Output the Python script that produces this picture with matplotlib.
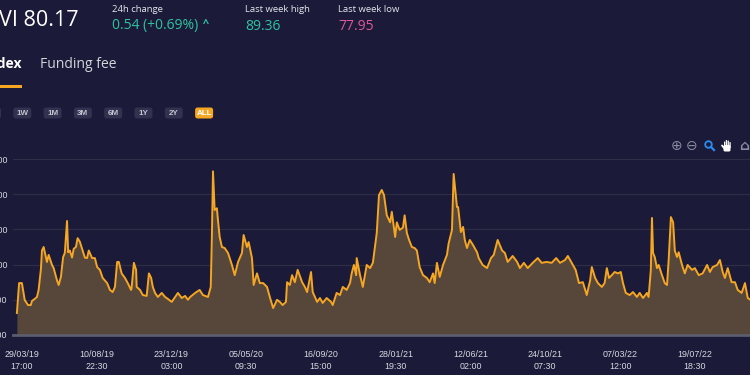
import numpy as np
import matplotlib.pyplot as plt
from matplotlib.patches import FancyBboxPatch, Rectangle, Circle

# index values (days after 2019-03-20 17:00)
days = [0, 4, 9, 11, 14, 20, 25, 27, 32, 36, 39, 43, 45, 48, 54, 57, 63, 66, 72, 75,
        79, 83, 86, 90, 92, 95, 99, 102, 106, 109, 113, 118, 122, 126, 129, 135, 140, 144, 149, 154,
        162, 167, 172, 176, 180, 183, 188, 194, 199, 205, 206, 210, 214, 215, 221, 226, 233, 237, 241, 244,
        248, 253, 260, 266, 271, 278, 284, 289, 296, 302, 307, 311, 320, 328, 334, 343, 348, 350, 352, 355,
        359, 361, 364, 368, 373, 379, 386, 391, 397, 404, 407, 413, 416, 422, 425, 431, 436, 442, 449, 454,
        460, 467, 472, 477, 483, 485, 490, 494, 499, 504, 512, 517, 521, 528, 531, 539, 544, 549, 556, 564,
        567, 574, 580, 585, 592, 598, 601, 605, 609, 610, 616, 621, 628, 634, 639, 646, 650, 655, 659, 664,
        670, 673, 679, 682, 687, 693, 696, 700, 704, 709, 714, 718, 723, 729, 736, 741, 747, 750, 754, 759,
        765, 772, 775, 781, 784, 790, 792, 797, 801, 804, 808, 813, 819, 826, 829, 836, 844, 851, 856, 863,
        871, 876, 881, 890, 898, 903, 910, 917, 926, 935, 942, 951, 960, 968, 975, 984, 989, 996, 1003, 1009,
        1016, 1023, 1029, 1032, 1038, 1043, 1050, 1055, 1059, 1063, 1068, 1073, 1079, 1084, 1088, 1093, 1100, 1106, 1113, 1118,
        1124, 1131, 1134, 1138, 1140, 1142, 1145, 1149, 1152, 1158, 1163, 1167, 1170, 1174, 1178, 1181, 1185, 1188, 1194, 1199,
        1204, 1212, 1217, 1224, 1231, 1239, 1244, 1249, 1257, 1262, 1267, 1271, 1276, 1283, 1289, 1294, 1301, 1307, 1312, 1316]
values = [72.5, 89.5, 89.5, 85.6, 79.9, 77.0, 77.0, 79.3, 80.5, 81.6, 85.6, 97.0, 108.0, 110.0, 101.5, 105.5, 99.8, 98.0, 91.0, 88.4,
          93.0, 104.3, 106.6, 124.8, 107.0, 108.0, 104.0, 109.0, 110.0, 115.0, 113.0, 108.0, 104.0, 103.7, 108.0, 103.7, 103.7, 98.6, 97.0, 92.4,
          89.5, 85.6, 84.4, 87.3, 101.5, 101.5, 95.0, 92.4, 89.5, 85.6, 87.0, 101.0, 97.0, 87.3, 85.6, 82.7, 82.2, 95.0, 92.4, 87.3,
          83.9, 81.6, 83.9, 81.6, 80.5, 78.8, 81.6, 83.9, 81.0, 82.2, 80.0, 81.6, 83.9, 85.6, 82.7, 81.6, 87.3, 115.7, 153.0, 131.0,
          132.0, 125.0, 115.7, 110.0, 109.4, 106.6, 99.8, 94.0, 101.5, 106.6, 116.8, 110.0, 112.8, 103.7, 88.4, 95.0, 89.5, 89.5, 87.3, 81.6,
          75.3, 80.0, 78.8, 77.0, 78.8, 90.0, 88.4, 94.0, 90.0, 97.0, 90.0, 87.3, 84.4, 95.8, 84.4, 78.8, 81.0, 78.2, 81.0, 78.8,
          77.0, 83.9, 82.7, 87.3, 85.6, 89.5, 95.0, 99.8, 94.0, 103.7, 94.0, 87.3, 99.8, 98.0, 101.0, 118.0, 139.5, 142.4, 139.5, 128.0,
          124.0, 130.0, 115.7, 124.0, 119.7, 121.0, 128.0, 118.0, 114.0, 110.0, 109.4, 108.0, 98.6, 94.0, 92.4, 90.0, 95.0, 89.5, 101.0, 93.0,
          99.8, 105.5, 112.0, 119.7, 151.5, 132.7, 132.7, 118.5, 121.4, 114.0, 109.4, 114.0, 111.0, 107.0, 103.7, 99.8, 98.0, 103.7, 105.5, 114.0,
          108.0, 106.6, 101.5, 104.9, 101.5, 98.0, 101.0, 98.0, 101.0, 103.7, 101.0, 101.5, 101.0, 103.7, 101.0, 102.6, 104.9, 101.0, 97.0, 89.5,
          90.0, 82.7, 91.0, 98.6, 92.4, 89.5, 87.3, 89.5, 98.0, 92.4, 94.0, 95.8, 95.0, 95.8, 89.5, 83.9, 82.7, 84.4, 81.6, 83.9,
          81.0, 83.9, 81.6, 97.0, 126.5, 106.6, 104.3, 98.0, 99.8, 94.0, 89.5, 88.4, 102.6, 127.0, 124.0, 108.0, 104.3, 107.0, 99.8, 95.0,
          99.8, 97.0, 98.0, 94.0, 95.0, 99.8, 95.8, 98.6, 99.8, 102.6, 95.8, 92.4, 98.0, 90.0, 90.0, 85.6, 83.9, 89.5, 81.0, 80.17]

tick_times = ['2019-03-29T17:00', '2019-08-10T22:30', '2019-12-23T03:00', '2020-05-05T09:30',
              '2020-09-16T15:00', '2021-01-28T19:30', '2021-06-12T02:00', '2021-10-24T07:30',
              '2022-03-07T12:00', '2022-07-19T18:30']
yticks = [60, 80, 100, 120, 140, 160]
buttons = ['1D', '1W', '1M', '3M', '6M', '1Y', '2Y', 'ALL']

bg = '#1b1b39'
orange = '#f5a623'

start = np.datetime64('2019-03-20T17:00')
dates = start + (np.array(days) * 1440).astype('timedelta64[m]')
ticks = np.array(tick_times, dtype='datetime64[m]')
tick_labels = [str(t)[8:10] + '/' + str(t)[5:7] + '/' + str(t)[2:4] + '\n' + str(t)[11:16] for t in ticks]

fig = plt.figure(figsize=(7.5, 3.75), dpi=100, facecolor=bg)

# chart area in pixel terms: x 13..750, y 150..335
ax = fig.add_axes([13/750, 40/375, 737/750, 185/375])
ax.set_facecolor(bg)
ax.fill_between(dates, values, 60, color='#57463a', lw=0, zorder=2)
ax.plot(dates, values, color=orange, lw=1.4, zorder=3)
ax.set_xlim(start - np.timedelta64(7, 'D'), start + np.timedelta64(1316, 'D'))
ax.set_ylim(60, 60 + 185/1.76)
ax.set_yticks(yticks)
ax.set_yticklabels(['%.2f' % v for v in yticks])
ax.set_xticks(ticks)
ax.set_xticklabels(tick_labels, linespacing=1.4)
ax.tick_params(axis='x', length=0, colors='#d8d8e2', labelsize=6.4, pad=11)
ax.tick_params(axis='y', length=0, colors='#d8d8e2', labelsize=6.4, pad=4)
for lab in ax.get_xticklabels() + ax.get_yticklabels():
    lab.set_fontfamily('Liberation Sans')
ax.grid(axis='y', color='#2e2e48', lw=0.8, zorder=1)
for s in ['top', 'left', 'right']:
    ax.spines[s].set_visible(False)
ax.spines['bottom'].set_color('#5c5c6e')
ax.spines['bottom'].set_linewidth(2)
ax.spines['bottom'].set_zorder(4)

# header overlay in pixel coordinates
ov = fig.add_axes([0, 0, 1, 1], facecolor='none')
ov.set_xlim(0, 750)
ov.set_ylim(375, 0)
ov.axis('off')

hf = 'Open Sans'
ov.text(-1, 20, 'VI 80.17', color='white', fontsize=15.5, family=hf, va='center')
ov.text(112, 9, '24h change', color='#e6e6ee', fontsize=6.8, family=hf, va='center')
ov.text(112, 26, '0.54 (+0.69%)', color='#2ec4a0', fontsize=10, family=hf, va='center')
ov.text(206, 24, '^', color='#2ec4a0', fontsize=8, family=hf, weight='bold', va='center', ha='center')
ov.text(245, 9, 'Last week high', color='#e6e6ee', fontsize=6.8, family=hf, va='center')
ov.text(245, 26, '89.36', color='#2ec4a0', fontsize=10, family=hf, va='center')
ov.text(338, 9, 'Last week low', color='#e6e6ee', fontsize=6.8, family=hf, va='center')
ov.text(338, 26, '77.95', color='#e0579a', fontsize=10, family=hf, va='center')

ov.text(22, 64, 'Index', color='white', fontsize=10, family=hf, weight='bold', va='center', ha='right')
ov.text(40, 64, 'Funding fee', color='#d4d4dc', fontsize=10, family=hf, va='center')
ov.add_patch(Rectangle((0, 85), 22, 2.5, color=orange, lw=0))

# range buttons
for i, b in enumerate(buttons):
    x0 = -17 + 30.3 * i
    w = 18
    fc = orange if b == 'ALL' else '#30324f'
    ov.add_patch(FancyBboxPatch((x0, 107.5), w, 11, boxstyle='round,pad=0,rounding_size=2.5',
                                fc=fc, ec='none'))
    ov.text(x0 + w/2, 113.5, b, color='white' if b == 'ALL' else '#c4c4d0', fontsize=5.8,
            family='Liberation Sans', weight='bold', ha='center', va='center')

# toolbar
ov.text(677, 146, '⊕', color='#8a8ca2', fontsize=10, ha='center', va='center')
ov.text(692, 146, '⊖', color='#8a8ca2', fontsize=10, ha='center', va='center')
ov.add_patch(Circle((708.5, 144.5), 3.3, fill=False, ec='#2a8cf0', lw=1.3))
ov.plot([711, 714], [147, 150], color='#2a8cf0', lw=1.6)
# hand icon drawn as shapes (no installed font has the glyph)
ov.add_patch(FancyBboxPatch((723.5, 145), 7, 6.5, boxstyle='round,pad=0,rounding_size=1.5', fc='white', ec='none'))
for fx, ftop in zip([724, 725.8, 727.6, 729.4], [141.5, 140, 140.5, 142]):
    ov.add_patch(FancyBboxPatch((fx, ftop), 1.3, 6, boxstyle='round,pad=0,rounding_size=0.6', fc='white', ec='none'))
ov.plot([722, 724.5], [145.5, 148.5], color='white', lw=1.3, solid_capstyle='round')
ov.text(744, 146, '⌂', color='#8a8ca2', fontsize=10, ha='center', va='center', weight='bold')

fig.savefig('out.png', dpi=100, facecolor=bg)
